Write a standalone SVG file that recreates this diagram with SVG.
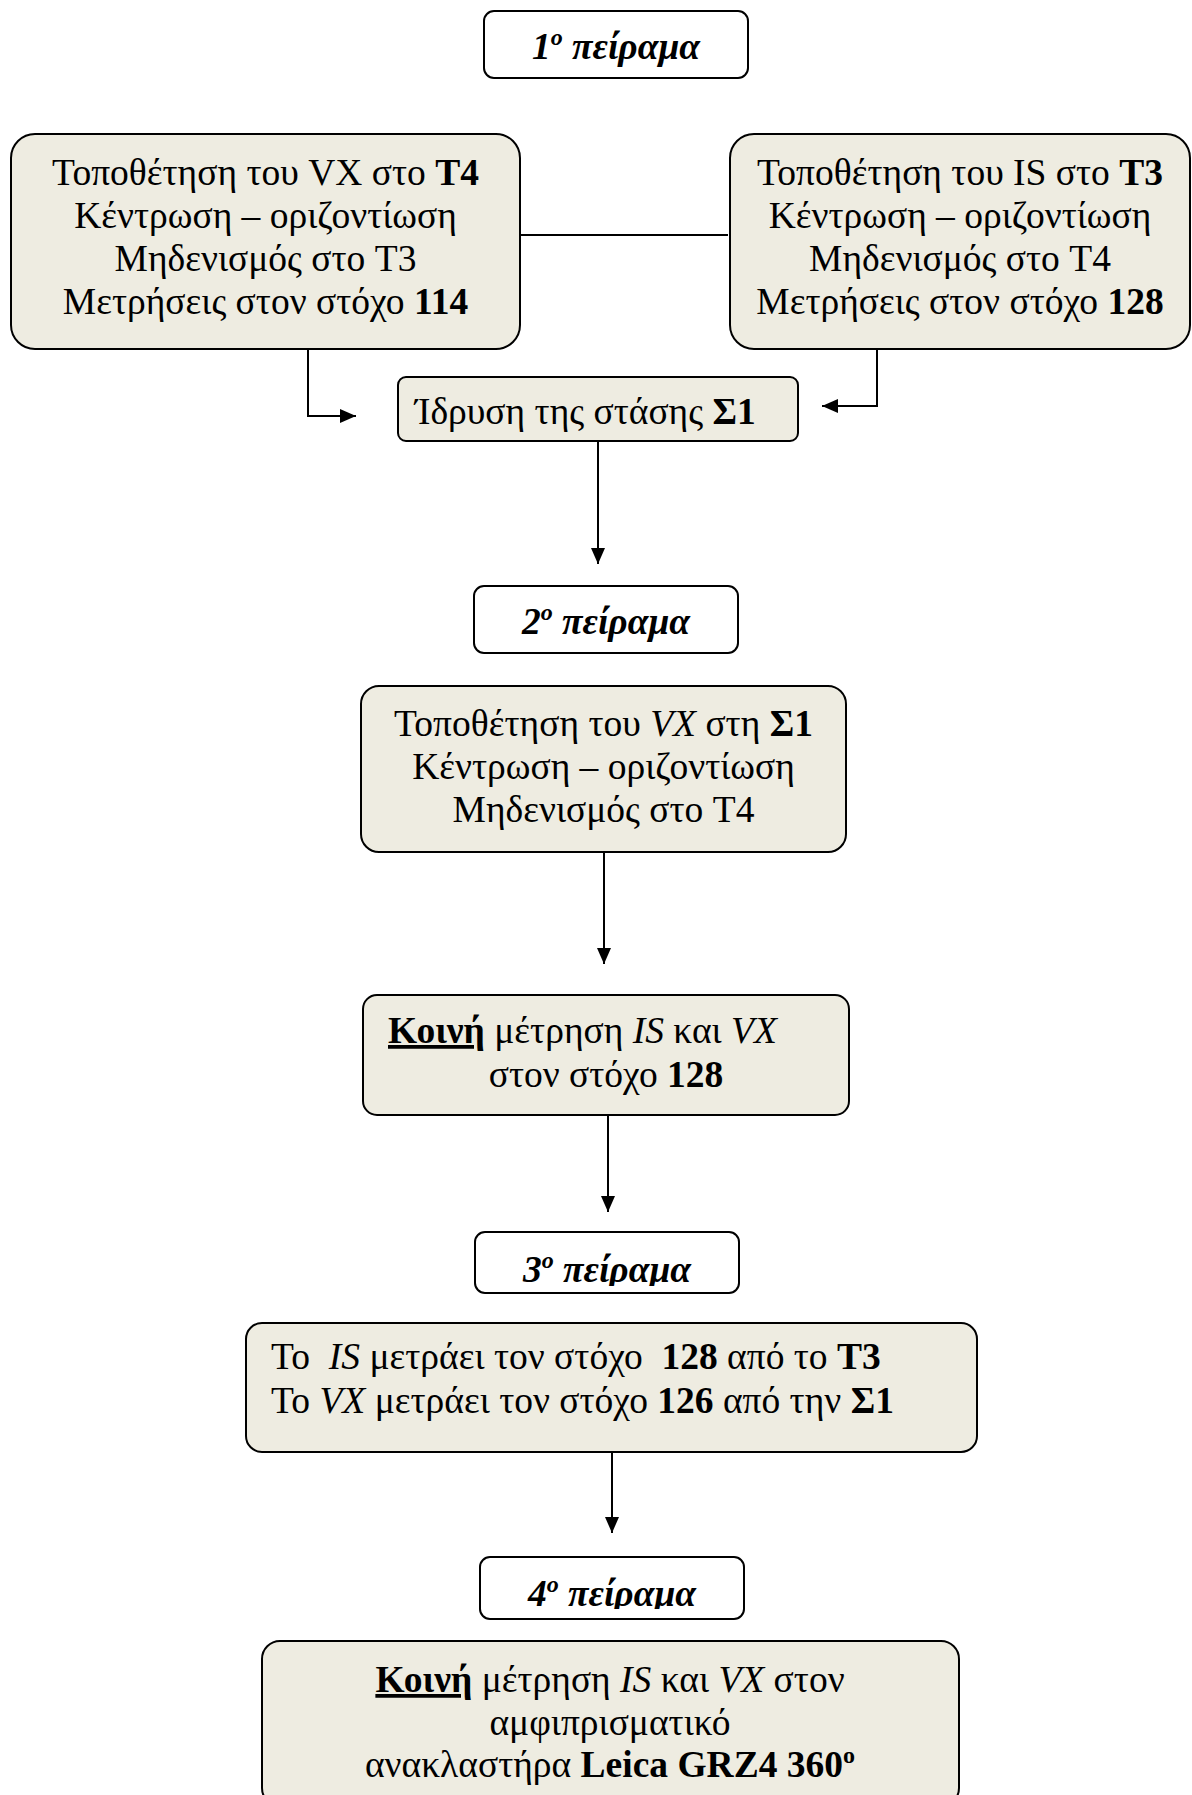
<svg xmlns="http://www.w3.org/2000/svg" width="1192" height="1795" viewBox="0 0 1192 1795">
<defs>
<style>
.bx{fill:#EEECE1;stroke:#000;stroke-width:2}
.hd{fill:#fff;stroke:#000;stroke-width:2}
.t{font-family:"Liberation Serif","Times New Roman",serif;font-size:37.5px;fill:#000}
.c{text-anchor:middle}
.h{font-weight:bold;font-style:italic}
.b{font-weight:bold}
.i{font-style:italic}
.u{text-decoration:underline}
.ln{fill:none;stroke:#000;stroke-width:2}
</style>
<marker id="ah" markerUnits="userSpaceOnUse" markerWidth="17" markerHeight="16" refX="16" refY="8" orient="auto">
<path d="M0,1 L16,8 L0,15 z" fill="#000"/>
</marker>
<clipPath id="c3"><rect x="470" y="1225" width="280" height="61"/></clipPath>
<clipPath id="c4"><rect x="470" y="1550" width="280" height="59"/></clipPath>
</defs>
<rect width="1192" height="1795" fill="#fff"/>

<g id="connectors">
<path class="ln" d="M520,235 H728"/>
<path class="ln" d="M308,349 V416 H356" marker-end="url(#ah)"/>
<path class="ln" d="M877,349 V406 H822" marker-end="url(#ah)"/>
<path class="ln" d="M598,441 V564" marker-end="url(#ah)"/>
<path class="ln" d="M604,852 V964" marker-end="url(#ah)"/>
<path class="ln" d="M608,1115 V1212" marker-end="url(#ah)"/>
<path class="ln" d="M612,1452 V1533" marker-end="url(#ah)"/>
</g>

<g id="exp1">
<rect class="hd" x="484" y="11" width="264" height="67" rx="10"/>
<text class="t c h" x="616" y="59">1<tspan font-size="24" dy="-14">ο</tspan><tspan dy="14"> πείραμα</tspan></text>
</g>

<g id="vx_t4">
<rect class="bx" x="11" y="134" width="509" height="215" rx="24"/>
<text class="t c" x="265.5" y="185">Τοποθέτηση του VX στο <tspan class="b">T4</tspan></text>
<text class="t c" x="265.5" y="228">Κέντρωση – οριζοντίωση</text>
<text class="t c" x="265.5" y="271">Μηδενισμός στο T3</text>
<text class="t c" x="265.5" y="314">Μετρήσεις στον στόχο <tspan class="b">114</tspan></text>
</g>

<g id="is_t3">
<rect class="bx" x="730" y="134" width="460" height="215" rx="24"/>
<text class="t c" x="960" y="185">Τοποθέτηση του IS στο <tspan class="b">T3</tspan></text>
<text class="t c" x="960" y="228">Κέντρωση – οριζοντίωση</text>
<text class="t c" x="960" y="271">Μηδενισμός στο T4</text>
<text class="t c" x="960" y="314">Μετρήσεις στον στόχο <tspan class="b">128</tspan></text>
</g>

<g id="s1">
<rect class="bx" x="398" y="377" width="400" height="64" rx="8"/>
<text class="t" x="415" y="424">Ίδρυση της στάσης <tspan class="b">Σ1</tspan></text>
</g>

<g id="exp2">
<rect class="hd" x="474" y="586" width="264" height="67" rx="10"/>
<text class="t c h" x="606" y="634">2<tspan font-size="24" dy="-14">ο</tspan><tspan dy="14"> πείραμα</tspan></text>
</g>

<g id="vx_s1">
<rect class="bx" x="361" y="686" width="485" height="166" rx="18"/>
<text class="t c" x="603.5" y="736">Τοποθέτηση του <tspan class="i">VX</tspan> στη <tspan class="b">Σ1</tspan></text>
<text class="t c" x="603.5" y="779">Κέντρωση – οριζοντίωση</text>
<text class="t c" x="603.5" y="822">Μηδενισμός στο T4</text>
</g>

<g id="common128">
<rect class="bx" x="363" y="995" width="486" height="120" rx="14"/>
<text class="t" x="388" y="1043"><tspan class="b u">Κοινή</tspan> μέτρηση <tspan class="i">IS</tspan> και <tspan class="i">VX</tspan></text>
<text class="t c" x="606" y="1087">στον στόχο <tspan class="b">128</tspan></text>
</g>

<g id="exp3">
<rect class="hd" x="475" y="1232" width="264" height="61" rx="10"/>
<text class="t c h" x="607" y="1282" clip-path="url(#c3)">3<tspan font-size="24" dy="-14">ο</tspan><tspan dy="14"> πείραμα</tspan></text>
</g>

<g id="separate">
<rect class="bx" x="246" y="1323" width="731" height="129" rx="16"/>
<text class="t" x="271" y="1369" xml:space="preserve">Το  <tspan class="i">IS</tspan> μετράει τον στόχο  <tspan class="b">128</tspan> από το <tspan class="b">T3</tspan></text>
<text class="t" x="271" y="1413">Το <tspan class="i">VX</tspan> μετράει τον στόχο <tspan class="b">126</tspan> από την <tspan class="b">Σ1</tspan></text>
</g>

<g id="exp4">
<rect class="hd" x="480" y="1557" width="264" height="62" rx="10"/>
<text class="t c h" x="612" y="1606" clip-path="url(#c4)">4<tspan font-size="24" dy="-14">ο</tspan><tspan dy="14"> πείραμα</tspan></text>
</g>

<g id="prism">
<rect class="bx" x="262" y="1641" width="697" height="165" rx="18"/>
<text class="t c" x="610" y="1692"><tspan class="b u">Κοινή</tspan> μέτρηση <tspan class="i">IS</tspan> και <tspan class="i">VX</tspan> στον</text>
<text class="t c" x="610" y="1735">αμφιπρισματικό</text>
<text class="t c" x="610" y="1777">ανακλαστήρα <tspan class="b">Leica GRZ4 360<tspan font-size="24" dy="-14">ο</tspan></tspan></text>
</g>
</svg>
